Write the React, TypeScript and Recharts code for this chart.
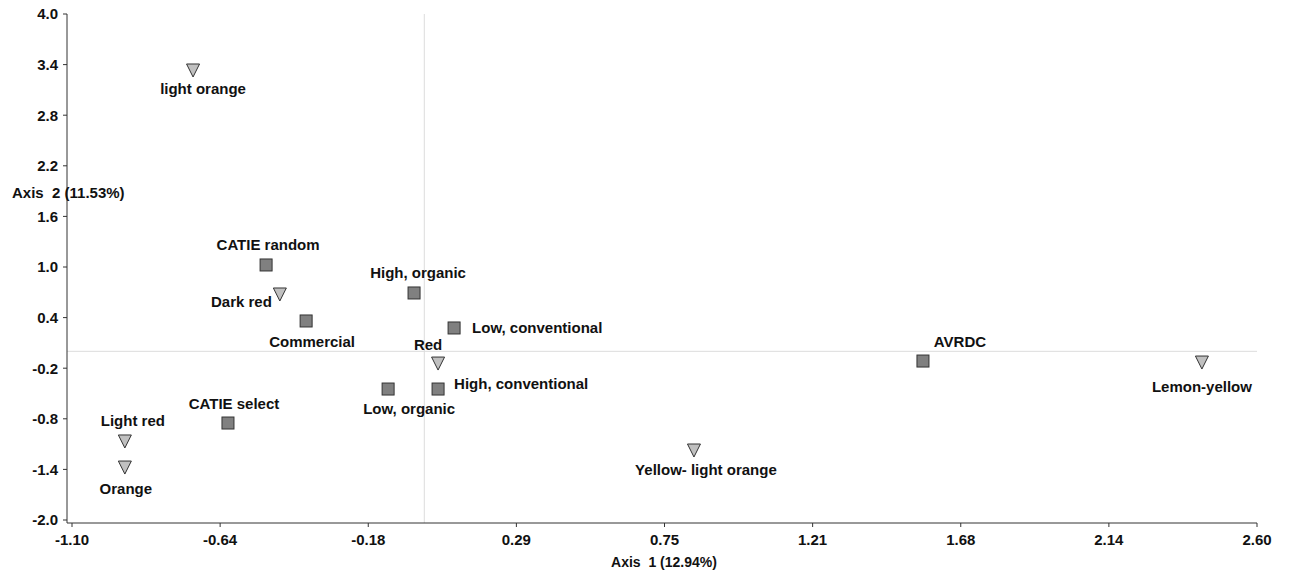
import React from 'react';
import { ScatterChart, Scatter, XAxis, YAxis, ReferenceLine, Label } from 'recharts';

// Squares (treatments / sources)
const squareNames = ['CATIE random', 'Commercial', 'High, organic', 'Low, conventional', 'AVRDC', 'Low, organic', 'High, conventional', 'CATIE select'];
const squareX = [-0.494, -0.369, -0.032, 0.093, 1.557, -0.113, 0.043, -0.613];
const squareY = [1.024, 0.36, 0.692, 0.277, -0.115, -0.447, -0.447, -0.85];

// Triangles (fruit colours)
const triangleNames = ['light orange', 'Dark red', 'Red', 'Lemon-yellow', 'Light red', 'Orange', 'Yellow- light orange'];
const triangleX = [-0.722, -0.451, 0.043, 2.428, -0.935, -0.935, 0.842];
const triangleY = [3.336, 0.68, -0.139, -0.127, -1.063, -1.372, -1.17];

const xTicks = [-1.1, -0.6375, -0.175, 0.2875, 0.75, 1.2125, 1.675, 2.1375, 2.6];
const xTickLabels = ['-1.10', '-0.64', '-0.18', '0.29', '0.75', '1.21', '1.68', '2.14', '2.60'];
const yTicks = [-2.0, -1.4, -0.8, -0.2, 0.4, 1.0, 1.6, 2.2, 2.8, 3.4, 4.0];
const yTickLabels = ['-2.0', '-1.4', '-0.8', '-0.2', '0.4', '1.0', '1.6', '2.2', '2.8', '3.4', '4.0'];

const xAxisTitle = 'Axis  1 (12.94%)';
const yAxisTitle = 'Axis  2 (11.53%)';

// label placement relative to marker: [dx, dy, anchor]
const labelPlacement: Record<string, [number, number, string]> = {
  'CATIE random': [2, -20, 'middle'],
  'Commercial': [6, 21, 'middle'],
  'High, organic': [4, -20, 'middle'],
  'Low, conventional': [18, 0, 'start'],
  'AVRDC': [37, -19, 'middle'],
  'Low, organic': [21, 20, 'middle'],
  'High, conventional': [16, -5, 'start'],
  'CATIE select': [6, -19, 'middle'],
  'light orange': [10, 19, 'middle'],
  'Dark red': [-8, 8, 'end'],
  'Red': [-10, -18, 'middle'],
  'Lemon-yellow': [0, 25, 'middle'],
  'Light red': [8, -20, 'middle'],
  'Orange': [1, 22, 'middle'],
  'Yellow- light orange': [12, 20, 'middle'],
};

const squareData = squareNames.map((name, i) => ({ name, x: squareX[i], y: squareY[i] }));
const triangleData = triangleNames.map((name, i) => ({ name, x: triangleX[i], y: triangleY[i] }));

const FONT = '"Liberation Sans", Arial, sans-serif';

const PointLabel = ({ cx, cy, name }: { cx: number; cy: number; name: string }) => {
  const p = labelPlacement[name] || [0, -18, 'middle'];
  return (
    <text
      x={cx + p[0]}
      y={cy + p[1]}
      dy="0.35em"
      textAnchor={p[2] as any}
      fontFamily={FONT}
      fontWeight="bold"
      fontSize={15}
      fill="#111"
    >
      {name}
    </text>
  );
};

const SquareShape = (props: any) => {
  const { cx, cy, payload } = props;
  return (
    <g>
      <rect x={cx - 6} y={cy - 6} width={12} height={12} fill="#808080" stroke="#333" strokeWidth={1} />
      <PointLabel cx={cx} cy={cy} name={payload.name} />
    </g>
  );
};

const TriangleShape = (props: any) => {
  const { cx, cy, payload } = props;
  return (
    <g>
      <polygon
        points={`${cx - 6.5},${cy - 6} ${cx + 6.5},${cy - 6} ${cx},${cy + 7}`}
        fill="#c0c0c0"
        stroke="#333"
        strokeWidth={1}
      />
      <PointLabel cx={cx} cy={cy} name={payload.name} />
    </g>
  );
};

const tickStyle = { fontFamily: FONT, fontWeight: 'bold' as const, fontSize: 15, fill: '#111' };

export default function App() {
  return (
    <div style={{ width: 1289, height: 578, margin: '-8px 0 0 -8px' }}>
      <ScatterChart width={1289} height={578} margin={{ top: 14, right: 32, bottom: 0, left: 0 }}>
        <XAxis
          type="number"
          dataKey="x"
          domain={[-1.1, 2.6]}
          ticks={xTicks}
          tickFormatter={(v: number) => xTickLabels[xTicks.indexOf(v)] ?? String(v)}
          interval={0}
          height={55}
          padding={{ left: 5, right: 0 }}
          tick={tickStyle}
          tickSize={4}
          tickMargin={7}
          stroke="#333"
          allowDataOverflow
        >
          <Label
            content={(props: any) => {
              const vb = props.viewBox;
              return (
                <text
                  x={vb.x + vb.width / 2 + 2}
                  y={vb.y + 44}
                  textAnchor="middle"
                  fontFamily={FONT}
                  fontWeight="bold"
                  fontSize={14}
                  fill="#111"
                  style={{ whiteSpace: 'pre' }}
                >
                  {xAxisTitle}
                </text>
              );
            }}
          />
        </XAxis>
        <YAxis
          type="number"
          dataKey="y"
          domain={[-2, 4]}
          ticks={yTicks}
          tickFormatter={(v: number) => yTickLabels[yTicks.indexOf(v)] ?? String(v)}
          interval={0}
          width={67}
          padding={{ top: 0, bottom: 3 }}
          tick={tickStyle}
          tickSize={4}
          tickMargin={5}
          stroke="#333"
          allowDataOverflow
        >
          <Label
            content={(props: any) => {
              const vb = props.viewBox;
              return (
                <text
                  x={vb.x + 12}
                  y={vb.y + 179}
                  dy="0.35em"
                  textAnchor="start"
                  fontFamily={FONT}
                  fontWeight="bold"
                  fontSize={15}
                  fill="#111"
                  style={{ whiteSpace: 'pre' }}
                >
                  {yAxisTitle}
                </text>
              );
            }}
          />
        </YAxis>
        <ReferenceLine x={0} stroke="#dcdcdc" strokeWidth={1} />
        <ReferenceLine y={0} stroke="#dcdcdc" strokeWidth={1} />
        <Scatter data={squareData} shape={SquareShape} isAnimationActive={false} />
        <Scatter data={triangleData} shape={TriangleShape} isAnimationActive={false} />
      </ScatterChart>
    </div>
  );
}
